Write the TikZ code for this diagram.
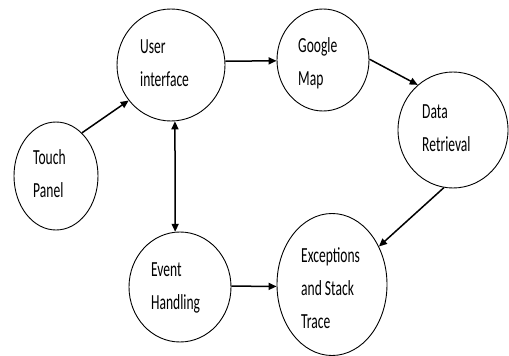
\documentclass[tikz,border=0pt]{standalone}
\usepackage{fontspec}
\setmainfont{Carlito}
\usetikzlibrary{shapes.geometric,arrows.meta}
\newcommand{\lbltext}[1]{\scalebox{0.63}[1]{\fontsize{21.5}{33}\selectfont\begin{tabular}[t]{@{}l@{}}#1\end{tabular}}}
\tikzset{
  bubble/.style={ellipse,draw,line width=0.9pt,inner sep=0pt},
  lbl/.style={anchor=base west,inner sep=0pt},
  conn/.style={line width=1.5pt,-{Triangle[length=8pt,width=7pt]}},
}
\begin{document}
\begin{tikzpicture}[x=1pt,y=-1pt]
\useasboundingbox (0,0) rectangle (509,356);
\node[bubble,minimum width=108pt,minimum height=112pt] (ui) at (171,65) {};
\node[bubble,minimum width=92pt,minimum height=102pt] (gm) at (323,60) {};
\node[bubble,minimum width=110pt,minimum height=116pt] (dr) at (453,130) {};
\node[bubble,minimum width=84pt,minimum height=108pt] (tp) at (56,176) {};
\node[bubble,minimum width=102pt,minimum height=110pt] (eh) at (180,287) {};
\node[bubble,minimum width=110pt,minimum height=142pt] (ex) at (332,284.5) {};

\node[lbl] (tui) at (140,53) {\lbltext{User\\interface}};
\node[lbl] (tgm) at (298,52) {\lbltext{Google\\Map}};
\node[lbl] (tdr) at (422,118) {\lbltext{Data\\Retrieval}};
\node[lbl] (ttp) at (33,164) {\lbltext{Touch\\Panel}};
\node[lbl] (teh) at (151,276) {\lbltext{Event\\Handling}};
\node[lbl] (tex) at (301,262) {\lbltext{Exceptions\\and Stack\\Trace}};

\draw[conn] (tp.59) -- (ui.220);
\draw[conn] (ui.4) -- (gm.181);
\draw[conn] (gm.1) -- (dr.128);
\draw[conn] (dr.261) -- (ex.39);
\draw[conn,{Triangle[length=8pt,width=7pt]}-{Triangle[length=8pt,width=7pt]}] (ui.274) -- (eh.95);
\draw[conn] (eh.1) -- (ex.182);
\end{tikzpicture}
\end{document}
